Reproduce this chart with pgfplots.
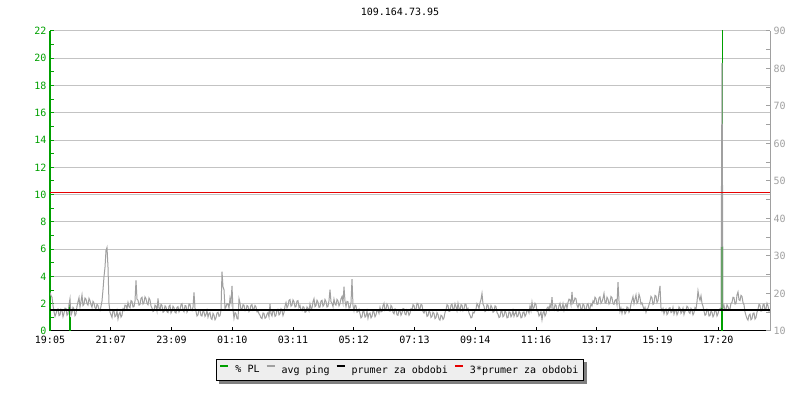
\documentclass[border=0pt]{standalone}
\usepackage{fontspec}
\setmainfont{DejaVu Sans Mono}
\usepackage{pgfplots}
\pgfplotsset{compat=1.18}
\usetikzlibrary{backgrounds}
\definecolor{plgreen}{RGB}{0,160,0}
\definecolor{pinggray}{RGB}{160,160,160}
\definecolor{gridgray}{RGB}{195,195,195}
\definecolor{legbg}{RGB}{238,238,238}
\definecolor{plred}{RGB}{230,0,0}
\begin{document}
\begin{tikzpicture}
\path[use as bounding box] (0,0) rectangle (800bp,400bp);
% left axis: % PL
\begin{axis}[
  at={(50bp,69bp)}, anchor=south west,
  scale only axis, width=720bp, height=300bp,
  xmin=0, xmax=720, ymin=0, ymax=22,
  axis x line*=bottom, axis y line*=left,
  x axis line style={-, black, line width=1bp},
  y axis line style={-, plgreen, line width=1.5bp},
  xtick={0,60.75,121.5,182.25,243,303.75,364.5,425.25,486,546.75,607.5,668.25},
  xticklabels={19:05,21:07,23:09,01:10,03:11,05:12,07:13,09:14,11:16,13:17,15:19,17:20},
  xticklabel style={yshift=-2bp},
  ytick={0,2,...,22}, minor ytick={1,3,...,21},
  tick align=inside, major tick length=4bp, minor tick length=4bp,
  xtick style={black, line width=1bp},
  ytick style={plgreen, line width=1bp},
  yticklabel style={plgreen},
  tick label style={font=\fontsize{10bp}{12bp}\selectfont},
  /pgf/number format/assume math mode=true,
  ymajorgrids, major grid style={gridgray, line width=1bp},
  clip=true,
]
\addplot[plgreen, ycomb, no markers, line width=1bp] coordinates {(19.5,2)};
\addplot[plgreen, ycomb, no markers, line width=2bp] coordinates {(20,1)};
\addplot[plgreen, ycomb, no markers, line width=1bp] coordinates {(671.3,11)};
\addplot[plgreen, ycomb, no markers, line width=1bp] coordinates {(672,30)};
\addplot[plgreen, ycomb, no markers, line width=2bp] coordinates {(672,1.3)};
\end{axis}
% right axis: ping
\begin{axis}[
  at={(50bp,69bp)}, anchor=south west,
  scale only axis, width=720bp, height=300bp,
  xmin=0, xmax=720, ymin=10, ymax=90,
  axis x line=none, axis y line*=right,
  y axis line style={-, pinggray, line width=1bp},
  ytick={10,20,...,90}, minor ytick={15,25,...,85},
  tick align=inside, major tick length=4bp, minor tick length=4bp,
  ytick style={pinggray, line width=1bp},
  yticklabel style={pinggray},
  tick label style={font=\fontsize{10bp}{12bp}\selectfont},
  /pgf/number format/assume math mode=true,
  legend columns=4,
  legend style={name=leg, at={(axis description cs:0.486,-0.0933)}, anchor=north,
    draw=black, fill=legbg, line width=1bp,
    font=\fontsize{10bp}{12bp}\selectfont,
    inner xsep=3bp, inner ysep=4bp,
    /tikz/every odd column/.append style={column sep=4bp},
    /tikz/every even column/.append style={column sep=4bp}},
  legend image code/.code={\draw[#1, line width=2bp] (0bp,3.6bp) -- (8bp,3.6bp);},
]
\addlegendimage{plgreen}
\addlegendentry{\% PL}
\addplot[pinggray, line width=1bp, no markers] coordinates {
(0,20.3) (1,19.4) (2,19.0) (3,16.8) (4,15.2) (5,13.9) (6,14.6) (7,15.7) (8,15.9) (9,14.1)
(10,14.3) (11,15.8) (12,15.5) (13,13.8) (14,14.7) (15,16.1) (16,16.0) (17,14.2) (18,14.5) (19,17.0)
(20,18.6) (21,14.2) (22,14.9) (23,16.3) (24,15.8) (25,14.1) (26,14.6) (27,16.6) (28,17.8) (29,18.9)
(30,16.4) (31,17.9) (32,19.6) (33,16.8) (34,17.2) (35,18.8) (36,18.5) (37,17.3) (38,16.9) (39,18.7)
(40,18.1) (41,17.0) (42,16.3) (43,17.9) (44,17.4) (45,16.2) (46,15.9) (47,17.1) (48,16.8) (49,15.6)
(50,15.4) (51,16.6) (52,18.0) (53,21.0) (54,24.5) (55,27.0) (56,31.5) (57,32.3) (58,27.0) (59,17.3)
(60,15.0) (61,14.3) (62,13.6) (63,15.6) (64,15.3) (65,13.8) (66,14.1) (67,15.4) (68,13.2) (69,14.5)
(70,15.0) (71,13.7) (72,14.2) (73,15.9) (74,15.5) (75,16.9) (76,16.8) (77,15.9) (78,17.6) (79,16.5)
(80,16.2) (81,18.1) (82,17.9) (83,16.4) (84,16.5) (85,18.0) (86,23.5) (87,18.5) (88,18.2) (89,16.9)
(90,17.1) (91,18.7) (92,19.0) (93,17.2) (94,17.6) (95,19.1) (96,18.6) (97,17.4) (98,17.0) (99,18.8)
(100,18.3) (101,16.7) (102,16.1) (103,15.2) (104,15.4) (105,16.9) (106,16.6) (107,15.3) (108,18.7) (109,16.2)
(110,15.6) (111,17.1) (112,16.8) (113,15.0) (114,15.2) (115,16.7) (116,16.4) (117,15.1) (118,14.9) (119,16.6)
(120,16.9) (121,14.8) (122,15.3) (123,16.6) (124,16.2) (125,15.0) (126,14.8) (127,16.3) (128,16.5) (129,15.1)
(130,15.7) (131,17.0) (132,17.3) (133,15.6) (134,15.1) (135,16.8) (136,16.7) (137,15.0) (138,15.6) (139,17.2)
(140,17.1) (141,15.6) (142,15.4) (143,16.4) (144,20.3) (145,16.1) (146,15.2) (147,14.0) (148,14.3) (149,15.7)
(150,15.6) (151,14.1) (152,14.0) (153,15.4) (154,15.1) (155,13.9) (156,14.4) (157,15.5) (158,13.7) (159,14.6)
(160,14.9) (161,13.4) (162,13.1) (163,14.7) (164,14.2) (165,13.0) (166,13.5) (167,14.8) (168,15.0) (169,13.9)
(170,14.1) (171,15.6) (172,25.8) (173,21.8) (174,21.0) (175,16.0) (176,16.4) (177,17.3) (178,17.2) (179,16.1)
(180,18.8) (181,17.5) (182,22.0) (183,15.8) (184,13.4) (185,14.9) (186,14.6) (187,13.3) (188,13.2) (189,18.6)
(190,17.5) (191,15.6) (192,15.8) (193,17.0) (194,16.9) (195,15.4) (196,15.5) (197,16.8) (198,16.6) (199,15.2)
(200,15.7) (201,16.9) (202,17.0) (203,15.6) (204,15.9) (205,16.8) (206,16.4) (207,15.1) (208,15.3) (209,14.6)
(210,14.2) (211,13.5) (212,13.3) (213,14.8) (214,14.7) (215,13.4) (216,13.6) (217,14.5) (218,14.9) (219,13.8)
(220,17.2) (221,14.6) (222,14.0) (223,15.5) (224,15.3) (225,13.9) (226,14.2) (227,15.7) (228,15.8) (229,14.3)
(230,14.6) (231,15.9) (232,15.5) (233,14.1) (234,14.9) (235,16.6) (236,17.6) (237,16.2) (238,16.7) (239,18.2)
(240,18.4) (241,16.6) (242,16.9) (243,18.3) (244,17.8) (245,16.4) (246,16.5) (247,18.0) (248,18.1) (249,16.3)
(250,16.8) (251,15.6) (252,15.4) (253,16.5) (254,16.3) (255,15.0) (256,15.1) (257,16.4) (258,16.0) (259,15.3)
(260,17.2) (261,16.0) (262,16.1) (263,17.8) (264,18.6) (265,16.5) (266,16.8) (267,18.2) (268,17.7) (269,16.3)
(270,16.4) (271,18.0) (272,18.2) (273,16.6) (274,17.0) (275,18.4) (276,17.9) (277,16.4) (278,16.6) (279,18.1)
(280,21.0) (281,17.8) (282,17.4) (283,16.5) (284,18.5) (285,17.2) (286,16.9) (287,18.4) (288,18.0) (289,16.7)
(290,17.3) (291,18.6) (292,19.2) (293,17.5) (294,21.8) (295,18.0) (296,16.5) (297,17.9) (298,17.8) (299,16.1)
(300,16.2) (301,17.6) (302,23.8) (303,16.8) (304,15.4) (305,16.9) (306,16.7) (307,15.0) (308,15.2) (309,15.8)
(310,14.6) (311,13.5) (312,13.8) (313,15.4) (314,15.2) (315,13.7) (316,14.0) (317,15.3) (318,13.4) (319,14.6)
(320,14.8) (321,13.5) (322,13.9) (323,15.3) (324,15.1) (325,13.8) (326,14.3) (327,15.6) (328,15.4) (329,14.7)
(330,16.3) (331,15.1) (332,15.2) (333,16.8) (334,17.4) (335,15.5) (336,15.8) (337,17.2) (338,16.7) (339,15.4)
(340,15.3) (341,16.8) (342,16.4) (343,15.0) (344,14.6) (345,15.9) (346,15.7) (347,14.3) (348,14.2) (349,15.6)
(350,15.4) (351,14.2) (352,14.8) (353,16.0) (354,15.9) (355,14.5) (356,14.3) (357,15.6) (358,15.2) (359,14.2)
(360,14.7) (361,15.9) (362,15.6) (363,17.0) (364,16.8) (365,15.5) (366,15.7) (367,17.4) (368,17.3) (369,15.8)
(370,16.0) (371,17.1) (372,16.9) (373,15.2) (374,14.8) (375,15.6) (376,15.4) (377,13.9) (378,14.1) (379,15.3)
(380,15.0) (381,13.6) (382,13.9) (383,15.0) (384,14.7) (385,13.3) (386,13.6) (387,14.9) (388,14.4) (389,13.2)
(390,12.9) (391,14.2) (392,14.0) (393,13.1) (394,13.5) (395,14.9) (396,15.6) (397,17.0) (398,16.8) (399,15.2)
(400,15.3) (401,16.9) (402,17.2) (403,15.7) (404,15.9) (405,17.3) (406,16.5) (407,15.4) (408,17.4) (409,16.0)
(410,15.5) (411,17.0) (412,16.9) (413,15.4) (414,15.8) (415,17.2) (416,17.1) (417,15.6) (418,16.0) (419,14.8)
(420,14.2) (421,13.5) (422,13.7) (423,15.0) (424,14.8) (425,15.4) (426,15.9) (427,17.3) (428,16.8) (429,16.0)
(430,17.5) (431,18.4) (432,20.0) (433,17.2) (434,16.6) (435,15.2) (436,15.4) (437,17.0) (438,16.9) (439,15.5)
(440,15.7) (441,16.8) (442,16.3) (443,15.0) (444,15.2) (445,16.7) (446,16.5) (447,14.9) (448,14.5) (449,13.6)
(450,13.8) (451,15.3) (452,15.2) (453,13.8) (454,14.1) (455,15.4) (456,14.9) (457,13.5) (458,13.6) (459,15.1)
(460,15.0) (461,13.8) (462,14.3) (463,15.5) (464,13.9) (465,14.6) (466,15.3) (467,13.8) (468,14.0) (469,15.2)
(470,14.8) (471,13.5) (472,13.7) (473,15.0) (474,15.1) (475,13.9) (476,14.4) (477,15.6) (478,15.5) (479,14.8)
(480,16.6) (481,15.4) (482,17.7) (483,16.0) (484,16.2) (485,17.4) (486,17.0) (487,15.3) (488,15.2) (489,14.0)
(490,14.4) (491,15.1) (492,13.0) (493,14.8) (494,15.3) (495,14.0) (496,14.6) (497,16.1) (498,16.4) (499,15.6)
(500,17.0) (501,16.2) (502,19.0) (503,16.0) (504,15.6) (505,17.0) (506,16.9) (507,15.4) (508,15.3) (509,16.8)
(510,17.4) (511,15.8) (512,16.1) (513,17.3) (514,15.5) (515,16.6) (516,17.2) (517,16.0) (518,17.6) (519,18.5)
(520,18.3) (521,17.0) (522,20.4) (523,17.4) (524,17.9) (525,18.8) (526,18.6) (527,16.9) (528,16.2) (529,17.3)
(530,17.1) (531,15.7) (532,15.8) (533,17.2) (534,16.9) (535,15.5) (536,15.6) (537,17.0) (538,17.3) (539,15.8)
(540,16.0) (541,17.2) (542,16.7) (543,18.0) (544,17.5) (545,19.0) (546,18.6) (547,17.1) (548,17.2) (549,18.8)
(550,19.1) (551,17.4) (552,17.8) (553,18.7) (554,20.0) (555,17.6) (556,17.4) (557,19.0) (558,18.5) (559,17.2)
(560,17.6) (561,19.2) (562,18.9) (563,17.3) (564,17.1) (565,18.2) (566,18.4) (567,17.0) (568,23.0) (569,18.0)
(570,15.2) (571,16.1) (572,14.7) (573,15.9) (574,15.8) (575,14.6) (576,15.1) (577,16.4) (578,16.2) (579,15.0)
(580,15.6) (581,17.2) (582,18.2) (583,19.2) (584,17.3) (585,18.5) (586,19.6) (587,17.4) (588,17.8) (589,19.8)
(590,18.9) (591,17.2) (592,17.5) (593,16.6) (594,15.6) (595,16.3) (596,15.0) (597,15.9) (598,16.1) (599,17.0)
(600,17.9) (601,19.2) (602,18.8) (603,17.1) (604,17.4) (605,19.5) (606,19.3) (607,17.6) (608,18.1) (609,20.2)
(610,22.0) (611,16.2) (612,15.3) (613,16.0) (614,14.6) (615,15.5) (616,15.9) (617,14.4) (618,14.8) (619,16.1)
(620,16.2) (621,14.9) (622,15.1) (623,16.3) (624,14.5) (625,15.4) (626,15.7) (627,14.3) (628,14.9) (629,16.4)
(630,16.0) (631,14.7) (632,15.2) (633,16.1) (634,14.4) (635,15.3) (636,15.6) (637,16.6) (638,16.3) (639,15.0)
(640,14.7) (641,16.0) (642,15.5) (643,14.3) (644,14.9) (645,16.2) (646,15.8) (647,17.8) (648,20.7) (649,19.0)
(650,18.2) (651,19.4) (652,17.4) (653,16.6) (654,15.3) (655,14.2) (656,14.4) (657,15.8) (658,15.6) (659,14.0)
(660,14.1) (661,15.3) (662,15.0) (663,13.8) (664,14.3) (665,15.6) (666,15.4) (667,14.0) (668,14.6) (669,15.7)
(670,15.9) (671,16.2) (672,81.5) (673,16.0) (674,16.8) (675,15.5) (676,15.7) (677,17.0) (678,16.5) (679,15.6)
(680,15.9) (681,17.4) (682,17.6) (683,19.0) (684,18.9) (685,17.2) (686,17.3) (687,19.6) (688,20.4) (689,18.3)
(690,18.1) (691,19.5) (692,19.2) (693,17.6) (694,17.0) (695,15.1) (696,14.1) (697,13.3) (698,12.9) (699,14.2)
(700,14.5) (701,13.0) (702,13.3) (703,14.7) (704,14.8) (705,13.2) (706,13.6) (707,15.0) (708,15.8) (709,17.1)
(710,16.9) (711,15.3) (712,15.4) (713,17.0) (714,17.2) (715,15.6) (716,15.9) (717,17.4) (718,16.7) (719,15.3)
(720,15.5)
};
\addlegendentry{avg ping}
\addplot[black, line width=2.5bp, no markers] coordinates {(0,15.6) (720,15.6)};
\addlegendentry{prumer za obdobi}
\addplot[plred, line width=1bp, no markers] coordinates {(0,46.8) (720,46.8)};
\addlegendentry{3*prumer za obdobi}
\end{axis}
\begin{pgfonlayer}{background}
\fill[black!50] ([xshift=3bp,yshift=-3bp]leg.south west) rectangle ([xshift=3bp,yshift=-3bp]leg.north east);
\end{pgfonlayer}
\node[font=\fontsize{10bp}{12bp}\selectfont] at (400bp,388bp) {109.164.73.95};
\end{tikzpicture}
\end{document}
